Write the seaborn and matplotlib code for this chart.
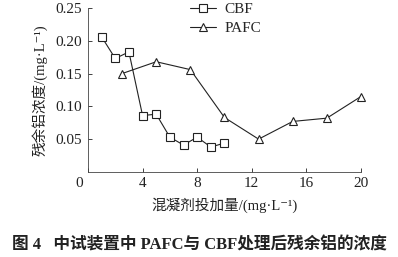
import matplotlib
matplotlib.use("Agg")
import matplotlib.pyplot as plt
import matplotlib.transforms as mtransforms
import seaborn as sns
import pandas as pd

cbf_x = [1, 2, 3, 4, 5, 6, 7, 8, 9, 10]
cbf_y = [0.206, 0.173, 0.183, 0.086, 0.088, 0.053, 0.041, 0.053, 0.038, 0.044]
pafc_x = [2.5, 5, 7.5, 10, 12.5, 15, 17.5, 20]
pafc_y = [0.150, 0.168, 0.156, 0.083, 0.050, 0.077, 0.082, 0.115]
x_ticks = [0, 4, 8, 12, 16, 20]
y_ticks = [0.05, 0.10, 0.15, 0.20, 0.25]
y_labels = ["0.05", "0.10", "0.15", "0.20", "0.25"]

df = pd.concat([
    pd.DataFrame({"x": cbf_x, "y": cbf_y, "s": "CBF"}),
    pd.DataFrame({"x": pafc_x, "y": pafc_y, "s": "PAFC"}),
])

sns.set_theme(style="ticks")
fam = ['Liberation Serif', 'Noto Sans CJK SC', 'DejaVu Sans']
plt.rcParams['font.family'] = fam
plt.rcParams['axes.unicode_minus'] = False

fig = plt.figure(figsize=(3.98, 2.57), dpi=100)
ax = fig.add_axes([0.221, 0.331, 0.686, 0.638])

sns.lineplot(data=df, x="x", y="y", hue="s", style="s",
             markers={"CBF": "s", "PAFC": "^"}, dashes=False,
             palette={"CBF": "#222222", "PAFC": "#222222"},
             linewidth=0.8, markersize=6, markerfacecolor="white",
             markeredgecolor="#222222", markeredgewidth=0.8, ax=ax)
for ln in ax.lines:
    ln.set_clip_on(False)

ax.set_xlim(0, 20)
ax.set_ylim(0, 0.25)
ax.set_xticks(x_ticks)
ax.set_xticklabels([str(t) for t in x_ticks])
ax.set_yticks(y_ticks)
ax.set_yticklabels(y_labels)
ax.tick_params(direction="in", length=3, width=0.6, labelsize=11, colors="#222222", pad=4)
lab0 = ax.xaxis.get_major_ticks()[0].label1
lab0.set_transform(lab0.get_transform() + mtransforms.ScaledTranslation(-0.09, 0, fig.dpi_scale_trans))
for s in ["top", "right"]:
    ax.spines[s].set_visible(False)
for s in ["left", "bottom"]:
    ax.spines[s].set_linewidth(0.6)
    ax.spines[s].set_color("#444444")

ax.set_xlabel("混凝剂投加量/(mg·L⁻¹)", fontsize=10.5, color="#222222", labelpad=5)
ax.set_ylabel("残余铝浓度/(mg·L⁻¹)", fontsize=10.5, color="#222222", labelpad=6)

leg = ax.legend(loc="upper left", bbox_to_anchor=(0.35, 1.07), frameon=False,
                fontsize=11, handlelength=1.7, handletextpad=0.6, labelspacing=0.35,
                borderaxespad=0)

fig.text(0.5, 0.045, "图 4   中试装置中 PAFC与 CBF处理后残余铝的浓度",
         ha="center", va="center", fontsize=12, fontweight="bold", color="#222222")

fig.savefig("out.png", dpi=100)
